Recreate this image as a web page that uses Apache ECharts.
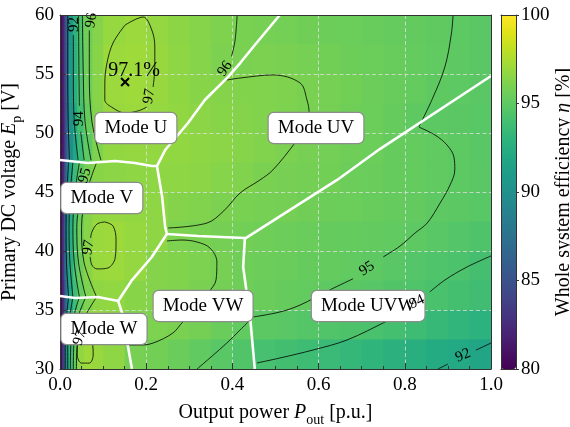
<!DOCTYPE html>
<html><head><meta charset="utf-8">
<script src="https://cdn.jsdelivr.net/npm/echarts@6/dist/echarts.min.js"></script>
<style>html,body{margin:0;padding:0;background:#fff}#c{width:570px;height:427px}</style>
</head><body><div id="c"></div>
<script>
// ---- data ----
const xEdges = [0,0.005,0.01,0.015,0.02,0.03,0.04,0.055,0.075,0.1,0.15,0.2,0.25,0.3,0.35,0.4,0.45,0.5,0.55,0.6,0.65,0.7,0.75,0.8,0.85,0.9,0.95,1.0];
const yEdges = [30,32.5,35,37.5,40,42.5,45,47.5,50,52.5,55,57.5,60];
// efficiency [%], rows from top (E=60) to bottom (E=30)
const effRows = [
 [80.4,81.8,84.5,87.5,90.6,92.8,94.4,95.6,96.3,96.85,97.0,96.8,96.55,96.35,96.15,95.95,95.85,95.75,95.65,95.55,95.45,95.35,95.25,95.15,95.08,94.97,94.85],
 [80.4,81.8,84.5,87.5,90.6,92.7,94.3,95.6,96.4,97.0,97.1,96.9,96.6,96.35,96.05,96.0,96.05,96.0,95.85,95.7,95.55,95.45,95.35,95.2,95.1,95.0,94.85],
 [80.4,81.8,84.5,87.5,90.5,92.6,94.2,95.5,96.4,97.0,97.1,96.9,96.65,96.4,96.3,96.25,96.2,96.15,96.0,95.85,95.7,95.5,95.35,95.2,95.05,94.95,94.85],
 [80.4,81.7,84.3,87.2,90.2,92.3,93.9,95.3,96.3,96.9,97.0,96.85,96.7,96.5,96.4,96.3,96.2,96.1,95.95,95.8,95.6,95.45,95.3,95.05,94.9,94.85,94.75],
 [80.4,81.6,84.0,86.8,89.8,91.8,93.5,95.0,96.1,96.7,96.8,96.75,96.7,96.6,96.5,96.35,96.2,96.05,95.9,95.75,95.6,95.45,95.3,95.2,95.1,94.95,94.8],
 [80.4,82.2,85.5,88.8,91.5,93.5,94.9,95.9,96.4,96.5,96.6,96.6,96.6,96.5,96.35,96.2,96.0,95.9,95.8,95.7,95.5,95.4,95.3,95.2,95.1,94.97,94.85],
 [80.4,82.8,86.5,89.8,92.2,94.0,95.4,96.3,96.7,96.8,96.7,96.6,96.3,96.2,96.05,95.95,95.85,95.8,95.65,95.55,95.45,95.35,95.25,95.15,95.0,94.9,94.75],
 [80.4,83.0,87.0,90.3,92.5,94.3,95.6,96.4,96.95,97.05,96.85,96.6,96.1,95.95,95.8,95.7,95.6,95.5,95.4,95.3,95.2,95.15,95.1,95.0,94.8,94.6,94.4],
 [80.4,83.0,87.0,90.2,92.4,94.2,95.5,96.4,96.95,97.0,96.8,96.3,96.25,96.1,95.9,95.6,95.5,95.4,95.3,95.2,95.1,95.0,94.8,94.6,94.45,94.3,94.05],
 [80.4,82.5,86.0,89.3,91.8,93.7,95.1,96.1,96.6,96.7,96.4,96.3,96.2,96.0,95.8,95.6,95.4,95.3,95.15,95.0,94.85,94.7,94.55,94.4,94.2,94.0,93.8],
 [80.4,83.0,87.0,90.3,92.7,94.6,95.9,96.7,96.8,96.6,96.2,96.1,96.0,95.8,95.4,95.1,94.9,94.8,94.65,94.5,94.35,94.2,94.0,93.7,93.4,93.1,92.8],
 [80.4,83.5,88.0,91.0,93.5,95.3,96.7,97.05,96.9,96.6,95.9,95.7,95.4,95.1,94.8,94.5,94.1,93.95,93.75,93.5,93.25,93.0,92.75,92.5,92.25,92.05,91.75]
];
const xTicks = [0,0.2,0.4,0.6,0.8,1.0];
const yTicks = [30,35,40,45,50,55,60];
const cbTicks = [80,85,90,95,100];

// mode boundaries [P, E]
const bUU_V  = [[0.510,60.0],[0.452,57.46],[0.418,55.93],[0.390,54.75],[0.336,52.80],[0.297,50.85],[0.244,48.56],[0.225,47.20]];
const bU_V   = [[0,47.71],[0.065,47.46],[0.128,47.63],[0.174,47.46],[0.213,47.2],[0.225,47.2]];
const bV_UV  = [[0.225,47.2],[0.237,44.58],[0.244,42.03],[0.248,41.44]];
const bVW_UV = [[0.248,41.44],[0.32,41.27],[0.429,41.1]];
const bUV_UVW= [[0.429,41.05],[0.643,46.02],[0.742,48.64],[1.0,54.83]];
const bVW_UVW= [[0.429,41.1],[0.425,38.64],[0.441,34.41],[0.452,30]];
const bV_VW  = [[0.248,41.44],[0.213,39.49],[0.167,37.54],[0.135,35.76]];
const bV_W   = [[0,36.19],[0.035,36.02],[0.088,36.1],[0.135,35.76]];
const bW_VW  = [[0.135,35.76],[0.144,34.75],[0.155,32.46],[0.167,30]];
const boundaries = [bUU_V,bU_V,bV_UV,bVW_UV,bUV_UVW,bVW_UVW,bV_VW,bV_W,bW_VW];

// contour lines [P, E]; null = gap for inline label
const c97U  = [[0.151,59.15],[0.193,59.83],[0.213,58.73],[0.220,57.29],[0.220,55.59],[0.216,53.90],null,[0.202,52.21],[0.181,51.87],[0.151,51.70],[0.123,52.12],[0.104,52.80],[0.104,54.24],[0.109,55.93],[0.123,57.63],[0.151,59.15]];
const c96Ua = [[0.411,60],[0.406,57.8],[0.398,56.5]];
const c96UV = [[0.387,54.49],[0.418,54.66],[0.494,54.92],[0.557,54.24],[0.573,52.80],[0.578,51.70],[0.568,50.4],[0.545,49.15],[0.494,46.87],[0.464,46.02],[0.418,44.92],[0.380,43.4],[0.341,42.37],[0.251,41.95]];
const c95UV = [[0.912,60],[0.908,58.4],[0.893,55.6],[0.864,52.9],[0.833,50.55]];
const c95UVW= [[0.833,50.5],[0.870,49.83],[0.898,48.98],[0.914,47.97],[0.916,46.87],[0.905,45.59],[0.882,44.07],[0.852,42.37],[0.824,41.53],[0.789,40.42],[0.750,39.5],null,[0.680,37.65],[0.626,36.70],[0.557,35.42],[0.510,34.83],[0.448,34.41]];
const c95VW = [[0.441,34.15],[0.418,33.31],[0.387,32.20],[0.353,31.10],[0.318,30.0]];
const c96VW = [[0.248,40.85],[0.283,40.93],[0.318,40.76],[0.348,40.25],[0.364,39.07],[0.362,37.54],[0.346,36.53],[0.320,35.0],[0.285,33.98],[0.262,33.05],[0.216,32.20],[0.186,32.03],[0.160,32.03]];
const c94   = [[1.0,39.58],[0.944,38.64],[0.893,37.54],[0.858,36.53],null,[0.795,34.75],[0.759,34.07],[0.666,32.46],[0.587,31.61],[0.510,30.93],[0.457,30.51]];
const c92   = [[1.0,32.2],[0.965,31.6],null,[0.9,30.42],[0.877,30.0]];
const u90 = [[0.018,60],[0.018,55],[0.019,51],[0.022,47.7]];
const u92 = [[0.031,58.3],[0.031,55],[0.033,51],[0.042,47.7]];
const u94 = [[0.043,60],[0.044,55],[0.045,52.3],null,[0.048,50.1],[0.056,47.7]];
const u95 = [[0.052,60],[0.054,55],[0.058,51],[0.072,47.7]];
const u96 = [[0.068,58.7],[0.068,55],[0.074,51],[0.095,47.7]];
const v90 = [[0.02,47.5],[0.016,45],[0.014,42],[0.015,39],[0.02,36.1]];
const v92 = [[0.03,47.5],[0.024,45],[0.021,42],[0.023,39],[0.03,36.1]];
const v94 = [[0.045,47.5],[0.035,45],[0.030,42],[0.033,39],[0.045,36.1]];
const v95 = [[0.064,47.5],null,[0.05,45.3],[0.039,42],[0.043,39],[0.06,36.1]];
const v96 = [[0.085,47.5],[0.062,45],[0.050,42],[0.056,39],[0.085,36.1]];
const w90 = [[0.02,36.1],[0.014,34],[0.012,32],[0.012,30]];
const w92 = [[0.03,36.1],[0.021,34],[0.018,32],[0.018,30]];
const w94 = [[0.045,36.1],[0.029,34],[0.025,32],[0.024,30]];
const w95 = [[0.06,36.1],[0.038,34],[0.032,32],[0.031,30]];
const w96 = [[0.085,36.1],[0.052,34],[0.040,32],[0.038,30]];
const c97V = [[0.104,42.46],[0.123,42.12],[0.130,40.93],[0.128,39.41],[0.111,38.56],[0.086,38.48],[0.074,38.81],[0.070,39.5],null,[0.071,41.1],[0.074,41.61],[0.086,42.29],[0.104,42.46]];
const c97W = [[0.052,33.1],[0.065,32.95],[0.076,32.0],[0.077,31.19],[0.068,30.5],[0.05,30.5],[0.040,31.2],[0.040,32.0]];
const contours = [c97U,c96Ua,c96UV,c95UV,c95UVW,c95VW,c96VW,c94,c92,u90,u92,u94,u95,u96,v90,v92,v94,v95,v96,w90,w92,w94,w95,w96,c97V,c97W];

// contour labels
const clText = ['92','96','94','95','97','96','97','97','95','94','92'];
const clP    = [0.032,0.073,0.045,0.058,0.207,0.383,0.066,0.046,0.712,0.828,0.935];
const clE    = [59.2,59.55,51.2,46.4,53.1,55.45,40.3,32.63,38.5,35.68,31.15];
const clRot  = [90,80,90,75,80,55,80,70,33,25,22];

// mode labels
const modeNames = ['Mode U','Mode UV','Mode V','Mode W','Mode VW','Mode UVW'];
const modeP = [0.176,0.594,0.097,0.102,0.332,0.715];
const modeE = [50.43,50.43,44.49,33.39,35.34,35.34];

// maximum point
const maxP = 0.151, maxE = 54.32, maxText = '97.1%';

// ---- chart ----
const FONT = 'Liberation Serif';
const viridis = ['#440154','#471365','#482475','#463480','#414487','#3b528b','#355f8d','#2f6c8e','#2a788e','#25848e','#21918c','#1e9c89','#22a884','#2fb47c','#44bf70','#5ec962','#7ad151','#9bd93c','#bddf26','#dfe318','#fde725'];

const cells = [];
for (let r = 0; r < effRows.length; r++) {
  const yi = effRows.length - 1 - r;
  for (let c = 0; c < xEdges.length - 1; c++) {
    cells.push([xEdges[c], xEdges[c+1], yEdges[yi], yEdges[yi+1], effRows[r][c]]);
  }
}
const toLine = arr => arr.map(p => p === null ? ['-','-'] : p);

const series = [{
  type: 'custom', xAxisIndex: 0, yAxisIndex: 0, data: cells, clip: true, silent: true, z: 1,
  encode: {x: [0,1], y: [2,3]},
  renderItem: function (params, api) {
    const a = api.coord([api.value(0), api.value(3)]);
    const b = api.coord([api.value(1), api.value(2)]);
    return {type: 'rect', shape: {x: a[0], y: a[1], width: b[0]-a[0]+1, height: b[1]-a[1]+1},
            style: {fill: api.visual('color')}};
  }
}];
contours.forEach(c => series.push({
  type: 'line', xAxisIndex: 0, yAxisIndex: 0, data: toLine(c), showSymbol: false, symbol: 'none',
  smooth: 0.35, connectNulls: false, clip: true, silent: true, z: 4,
  lineStyle: {color: '#000', width: 0.8}
}));
boundaries.forEach(b => series.push({
  type: 'line', xAxisIndex: 0, yAxisIndex: 0, data: b, showSymbol: false, symbol: 'none',
  smooth: false, clip: true, silent: true, z: 5,
  lineStyle: {color: '#fff', width: 2.6}
}));
const hiddenItem = {color: '#fff', opacity: 1};
series.push({
  type: 'scatter', xAxisIndex: 0, yAxisIndex: 0, symbolSize: 0, silent: true, z: 6,
  itemStyle: hiddenItem,
  data: modeNames.map((n, i) => ({name: n, value: [modeP[i], modeE[i]]})),
  label: {show: true, position: 'inside', formatter: '{b}', fontFamily: FONT, fontSize: 19, color: '#000',
    backgroundColor: '#fff', borderColor: '#8c8c8c', borderWidth: 1.2, borderRadius: 5,
    padding: [5, 9, 4, 9], lineHeight: 21, opacity: 1}
});
series.push({
  type: 'scatter', xAxisIndex: 0, yAxisIndex: 0, symbolSize: 0, silent: true, z: 7,
  itemStyle: hiddenItem,
  data: clText.map((t, i) => ({name: t, value: [clP[i], clE[i]], label: {rotate: clRot[i]}})),
  label: {show: true, position: 'inside', formatter: '{b}', fontFamily: FONT, fontSize: 15, color: '#000', opacity: 1}
});
series.push({
  type: 'scatter', xAxisIndex: 0, yAxisIndex: 0, silent: true, z: 7,
  symbol: 'path://M0,0L10,10M10,0L0,10', symbolSize: 8,
  itemStyle: {color: 'rgba(0,0,0,0)', borderColor: '#000', borderWidth: 2, opacity: 1},
  data: [[maxP, maxE]]
});
series.push({
  type: 'scatter', xAxisIndex: 0, yAxisIndex: 0, symbolSize: 0, silent: true, z: 7,
  itemStyle: hiddenItem,
  data: [{name: maxText, value: [maxP, maxE]}],
  label: {show: true, position: 'inside', offset: [9, -11], formatter: '{b}', fontFamily: FONT, fontSize: 20, color: '#000', opacity: 1}
});

const tickStyle = {color: '#333', width: 1};
const richName = {
  a: {fontFamily: FONT, fontSize: 20, color: '#000', lineHeight: 28},
  i: {fontFamily: FONT, fontSize: 20, color: '#000', fontStyle: 'italic', lineHeight: 28},
  s: {fontFamily: FONT, fontSize: 14, color: '#000', lineHeight: 14, verticalAlign: 'bottom'}
};
const frameAxis = (type, pos, gi, min, max) => ({
  type: 'value', gridIndex: gi, position: pos, min: min, max: max, z: 10,
  axisLine: {show: true, onZero: false, lineStyle: tickStyle}, axisTick: {show: false},
  axisLabel: {show: false}, splitLine: {show: false}
});

const option = {
  animation: false,
  backgroundColor: '#fff',
  grid: [
    {left: 60, top: 15, width: 431, height: 354, outerBoundsMode: 'none', containLabel: false},
    {left: 501, top: 15, width: 15, height: 354, outerBoundsMode: 'none', containLabel: false}
  ],
  xAxis: [
    {type: 'value', gridIndex: 0, position: 'bottom', min: 0, max: 1, interval: 0.2, z: 3,
     axisLine: {show: true, onZero: false, lineStyle: tickStyle},
     axisTick: {show: true, inside: true, length: 6, lineStyle: tickStyle},
     minorTick: {show: true, splitNumber: 4, length: 3, lineStyle: tickStyle},
     axisLabel: {show: true, margin: 7, fontFamily: FONT, fontSize: 19, color: '#000',
       formatter: v => (xTicks.indexOf(+v.toFixed(1)) >= 0 ? v.toFixed(1) : '')},
     splitLine: {show: true, lineStyle: {color: 'rgba(225,225,225,0.75)', width: 1, type: [4, 2.5]}},
     minorSplitLine: {show: false},
     name: '{a|Output power }{i|P}{s|out}{a| [p.u.]}', nameLocation: 'middle', nameGap: 30,
     nameTextStyle: {rich: richName}},
    frameAxis('x', 'top', 0, 0, 1),
    frameAxis('x', 'bottom', 1, 0, 1),
    frameAxis('x', 'top', 1, 0, 1)
  ],
  yAxis: [
    {type: 'value', gridIndex: 0, position: 'left', min: 30, max: 60, interval: 5, z: 3,
     axisLine: {show: true, onZero: false, lineStyle: tickStyle},
     axisTick: {show: true, inside: true, length: 6, lineStyle: tickStyle},
     minorTick: {show: true, splitNumber: 5, length: 3, lineStyle: tickStyle},
     axisLabel: {show: true, margin: 6, fontFamily: FONT, fontSize: 19, color: '#000',
       formatter: v => (yTicks.indexOf(v) >= 0 ? String(v) : '')},
     splitLine: {show: true, lineStyle: {color: 'rgba(225,225,225,0.75)', width: 1, type: [4, 2.5]}},
     name: '{a|Primary DC voltage }{i|E}{s|p}{a| [V]}', nameLocation: 'middle', nameGap: 34, nameRotate: 90,
     nameTextStyle: {rich: richName}},
    frameAxis('y', 'right', 0, 30, 60),
    frameAxis('y', 'left', 1, 80, 100),
    {type: 'value', gridIndex: 1, position: 'right', min: 80, max: 100, interval: 5, z: 10,
     axisLine: {show: true, onZero: false, lineStyle: tickStyle},
     axisTick: {show: true, inside: false, length: 3, lineStyle: tickStyle},
     axisLabel: {show: true, margin: 5, fontFamily: FONT, fontSize: 19, color: '#000',
       formatter: v => (cbTicks.indexOf(v) >= 0 ? String(v) : '')},
     splitLine: {show: false},
     name: '{a|Whole system efficiency }{i|η}{a| [%]}', nameLocation: 'middle', nameGap: 32, nameRotate: 90,
     nameTextStyle: {rich: richName}}
  ],
  visualMap: {
    type: 'continuous', min: 80, max: 100, dimension: 4, seriesIndex: 0,
    inRange: {color: viridis}, calculable: false, hoverLink: false, realtime: false,
    orient: 'vertical', left: 501, top: 15, itemWidth: 15, itemHeight: 354, padding: 0,
    text: null, showLabel: false, z: 4
  },
  series: series
};
const chart = echarts.init(document.getElementById('c'), null, {renderer: 'canvas'});
chart.setOption(option);
</script></body></html>
